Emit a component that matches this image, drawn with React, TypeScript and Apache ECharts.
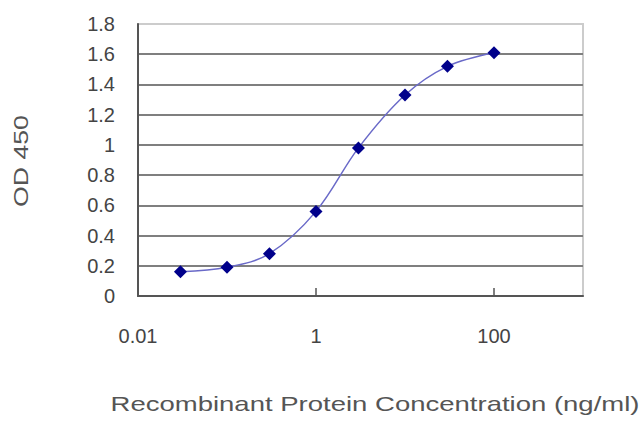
import React, { useEffect, useRef } from "react";
import * as echarts from "echarts";

const concentrations = [0.03, 0.1, 0.3, 1, 3, 10, 30, 100];
const od450 = [0.16, 0.19, 0.28, 0.56, 0.98, 1.33, 1.52, 1.61];
const xTickValues = [1, 100];
const xLabelValues = [0.01, 1, 100];
const xLabelTexts: Record<string, string> = { "-2": "0.01", "0": "1", "2": "100" };
const yTitle = "OD 450";
const xTitle = "Recombinant Protein Concentration (ng/ml)";

export default function App() {
  const ref = useRef<HTMLDivElement>(null);
  useEffect(() => {
    if (!ref.current) return;
    const chart = echarts.init(ref.current, null, { renderer: "svg" });
    const font = "'Liberation Sans', Arial, sans-serif";
    chart.setOption({
      animation: false,
      backgroundColor: "#ffffff",
      grid: {
        left: 138,
        right: 57,
        top: 24,
        bottom: 131,
        show: true,
        borderColor: "#cccccc",
        borderWidth: 2,
        backgroundColor: "transparent",
      },
      xAxis: {
        type: "log",
        logBase: 10,
        min: 0.01,
        max: 1000,
        axisLine: { show: true, lineStyle: { color: "#555555", width: 2 } },
        axisTick: {
          show: true,
          inside: true,
          length: 8,
          customValues: xTickValues,
          lineStyle: { color: "#555555", width: 1.5 },
        },
        minorTick: { show: false },
        splitLine: { show: false },
        axisLabel: {
          customValues: xLabelValues,
          margin: 30,
          fontFamily: font,
          fontSize: 20,
          color: "#444444",
          formatter: (v: number) => xLabelTexts[String(Math.round(Math.log10(v)))] ?? "",
        },
      },
      yAxis: {
        type: "value",
        min: 0,
        max: 1.8,
        interval: 0.2,
        axisLine: { show: true, lineStyle: { color: "#555555", width: 2 } },
        axisTick: { show: false },
        splitLine: {
          show: true,
          showMaxLine: false,
          lineStyle: { color: "#7f7f7f", width: 2 },
        },
        axisLabel: {
          margin: 23,
          fontFamily: font,
          fontSize: 20,
          color: "#444444",
        },
      },
      graphic: [
        {
          type: "text",
          x: 21,
          y: 161,
          rotation: Math.PI / 2,
          scaleX: 1.27,
          style: {
            text: yTitle,
            font: `21px ${font}`,
            fill: "#555555",
            align: "center",
            verticalAlign: "middle",
            textAlign: "center",
            textVerticalAlign: "middle",
          },
        },
        {
          type: "text",
          x: 375,
          y: 404,
          scaleX: 1.31,
          style: {
            text: xTitle,
            font: `21px ${font}`,
            fill: "#555555",
            align: "center",
            verticalAlign: "middle",
            textAlign: "center",
            textVerticalAlign: "middle",
          },
        },
      ],
      series: [
        {
          type: "line",
          data: concentrations.map((c, i) => [c, od450[i]]),
          smooth: 0.35,
          symbol: "diamond",
          symbolSize: 13,
          itemStyle: { color: "#00008b" },
          lineStyle: { color: "#6a6ac8", width: 1.5 },
          z: 5,
        },
      ],
    });
    return () => chart.dispose();
  }, []);
  return (
    <div
      ref={ref}
      style={{ position: "fixed", left: 0, top: 0, width: 640, height: 427 }}
    />
  );
}
